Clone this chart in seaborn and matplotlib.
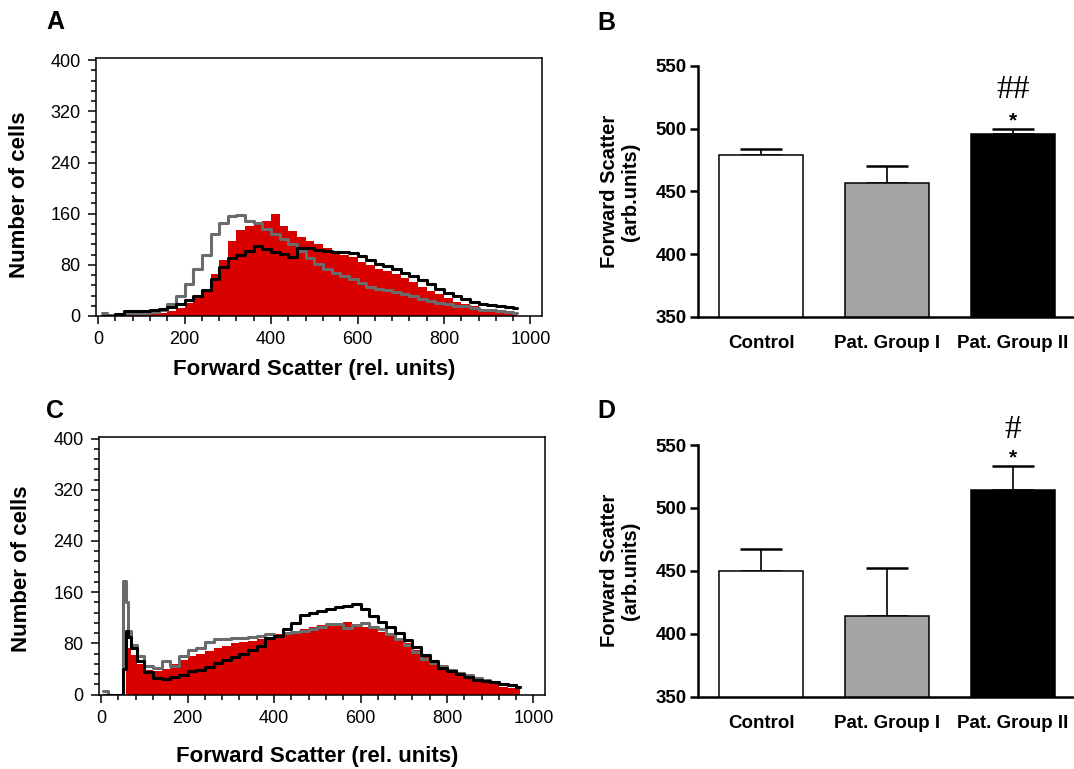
import matplotlib
matplotlib.use("Agg")
import matplotlib.pyplot as plt
import seaborn as sns
from matplotlib.ticker import MultipleLocator

# Panel A: flow cytometry histograms (forward scatter channel vs number of cells)
a_channel = list(range(10, 980, 20))
a_red = [0, 0, 0, 10, 8, 4, 4, 5, 8, 12,
         20, 30, 43, 65, 88, 118, 134, 140, 145, 148,
         160, 140, 133, 124, 117, 112, 106, 100, 96, 92,
         85, 80, 74, 70, 66, 60, 53, 45, 39, 34,
         28, 22, 18, 15, 11, 9, 7, 5, 4]
a_gray = [5, 2, 2, 4, 5, 5, 6, 10, 18, 32,
          50, 74, 96, 128, 145, 156, 158, 148, 146, 136,
          128, 120, 113, 102, 90, 81, 74, 68, 63, 58,
          52, 46, 43, 40, 38, 35, 31, 27, 23, 20,
          18, 16, 15, 12, 10, 9, 8, 7, 5]
a_black = [0, 0, 3, 8, 8, 8, 9, 11, 14, 18,
           25, 32, 41, 58, 77, 90, 96, 102, 110, 104,
           100, 97, 92, 106, 106, 103, 101, 100, 100, 98,
           94, 87, 82, 78, 73, 67, 62, 57, 50, 42,
           36, 31, 26, 22, 19, 17, 16, 14, 12]

# Panel C
c_channel = [5, 25, 45, 55, 60, 65, 75, 90] + list(range(110, 980, 20))
c_red = [0, 0, 0, 0, 75, 72, 62, 48,
         38, 36, 40, 48, 54, 60, 64, 68, 72, 76,
         80, 82, 84, 86, 90, 94, 98, 100, 103, 106,
         108, 110, 112, 114, 110, 106, 102, 98, 94, 88,
         80, 70, 58, 50, 44, 38, 32, 28, 24, 20,
         16, 12, 10, 8]
c_gray = [5, 0, 0, 178, 145, 100, 78, 60,
          45, 42, 52, 45, 60, 70, 72, 82, 86, 87,
          88, 88, 90, 92, 94, 92, 96, 98, 100, 103,
          106, 110, 110, 104, 108, 112, 106, 102, 94, 86,
          78, 66, 56, 50, 44, 38, 34, 30, 26, 23,
          20, 17, 15, 12]
c_black = [0, 0, 0, 40, 100, 90, 72, 52,
           35, 26, 25, 28, 30, 36, 39, 43, 49, 54,
           58, 63, 70, 76, 88, 92, 102, 112, 124, 128,
           130, 134, 137, 138, 142, 134, 122, 114, 106, 96,
           85, 74, 62, 52, 42, 37, 32, 27, 23, 21,
           20, 17, 15, 12]

# Panels B and D: mean forward scatter with SEM
groups = ["Control", "Pat. Group I", "Pat. Group II"]
b_mean = [479, 456.5, 495.5]
b_sem = [5, 14, 4]
d_mean = [450, 414, 514]
d_sem = [17.5, 38.5, 19.5]

RED = "#d90000"
GRAY_LINE = "#6b6b6b"
BAR_COLORS = ["white", "#a3a3a8", "black"]

sns.set_style("ticks")
plt.rcParams["font.family"] = ["Liberation Sans", "DejaVu Sans"]
for key in ("text.color", "axes.labelcolor", "xtick.color", "ytick.color", "axes.edgecolor"):
    plt.rcParams[key] = "black"

W, H = 1074, 769
fig = plt.figure(figsize=(W / 100, H / 100), dpi=100)


def px_axes(left, top, right, bottom):
    return fig.add_axes([left / W, 1 - bottom / H, (right - left) / W, (bottom - top) / H])


def draw_hist(ax, channel, red, gray, black, ylab_pos, xlab_pos):
    ax.fill_between(channel, red, step="mid", color=RED, lw=0)
    sns.lineplot(x=channel, y=gray, ax=ax, color=GRAY_LINE, lw=2.2, drawstyle="steps-mid")
    sns.lineplot(x=channel, y=black, ax=ax, color="black", lw=2.2, drawstyle="steps-mid")
    ax.set_xlim(-5, 1026)
    ax.set_ylim(0, 403)
    ax.xaxis.set_major_locator(MultipleLocator(200))
    ax.xaxis.set_minor_locator(MultipleLocator(40))
    ax.yaxis.set_major_locator(MultipleLocator(80))
    ax.yaxis.set_minor_locator(MultipleLocator(16))
    for s in ax.spines.values():
        s.set_linewidth(1.1)
        s.set_visible(True)
    ax.tick_params(which="major", direction="out", length=6, width=1.1, labelsize=13, pad=5)
    ax.tick_params(which="minor", direction="out", length=3.5, width=1.1)
    ax.set_ylabel("Number of cells", fontsize=16, fontweight="bold", va="center")
    ax.yaxis.set_label_coords(*ylab_pos)
    ax.set_xlabel("Forward Scatter (rel. units)", fontsize=16, fontweight="bold", va="center")
    ax.xaxis.set_label_coords(*xlab_pos)


def draw_bars(ax, mean, sem, marks):
    sns.barplot(x=groups, y=mean, hue=groups, palette=BAR_COLORS, edgecolor="black",
                linewidth=1.1, width=0.67, errorbar=None, legend=False, ax=ax, zorder=2)
    ax.errorbar(range(len(groups)), mean, yerr=[[0] * len(sem), sem], fmt="none",
                ecolor="black", elinewidth=1.2, capsize=15, capthick=1.8, zorder=1)
    ax.set_xlim(-0.504, 2.485)
    ax.set_ylim(350, 550)
    ax.yaxis.set_major_locator(MultipleLocator(50))
    sns.despine(ax=ax)
    for s in ("left", "bottom"):
        ax.spines[s].set_linewidth(1.8)
    ax.tick_params(axis="y", length=6, width=1.8, labelsize=13.5, pad=2)
    ax.tick_params(axis="x", length=0, labelsize=13.5, pad=13)
    for lab in ax.get_xticklabels() + ax.get_yticklabels():
        lab.set_fontweight("bold")
    ax.set_ylabel("Forward Scatter\n(arb.units)", fontsize=14.5, fontweight="bold",
                  va="center", linespacing=1.1)
    ax.yaxis.set_label_coords(-0.2065, 0.5)
    ax.set_xlabel("")
    hash_y, star_y, hash_txt = marks
    ax.text(2, hash_y, hash_txt, ha="center", va="center", fontsize=24,
            family=["Liberation Serif", "DejaVu Serif"], clip_on=False)
    ax.text(2, star_y, "*", ha="center", va="center", fontsize=15, fontweight="bold",
            clip_on=False)


ax_a = px_axes(96, 58.3, 541.7, 316)
ax_c = px_axes(99, 436.7, 544.7, 694.5)
ax_b = px_axes(697.7, 66, 1074, 316.7)
ax_d = px_axes(697.7, 445, 1074, 696.7)

draw_hist(ax_a, a_channel, a_red, a_gray, a_black, (-0.172, 0.47), (0.49, -0.206))
draw_hist(ax_c, c_channel, c_red, c_gray, c_black, (-0.174, 0.489), (0.49, -0.242))
draw_bars(ax_b, b_mean, b_sem, (531.4, 506.5, "##"))
draw_bars(ax_d, d_mean, d_sem, (562.3, 540.0, "#"))

for letter, x, y in [("A", 55, 22), ("B", 606.5, 23.5), ("C", 55, 411), ("D", 606.5, 411)]:
    fig.text(x / W, 1 - y / H, letter, fontsize=18, fontweight="bold", ha="center", va="center")

fig.savefig("out.png", dpi=100)
